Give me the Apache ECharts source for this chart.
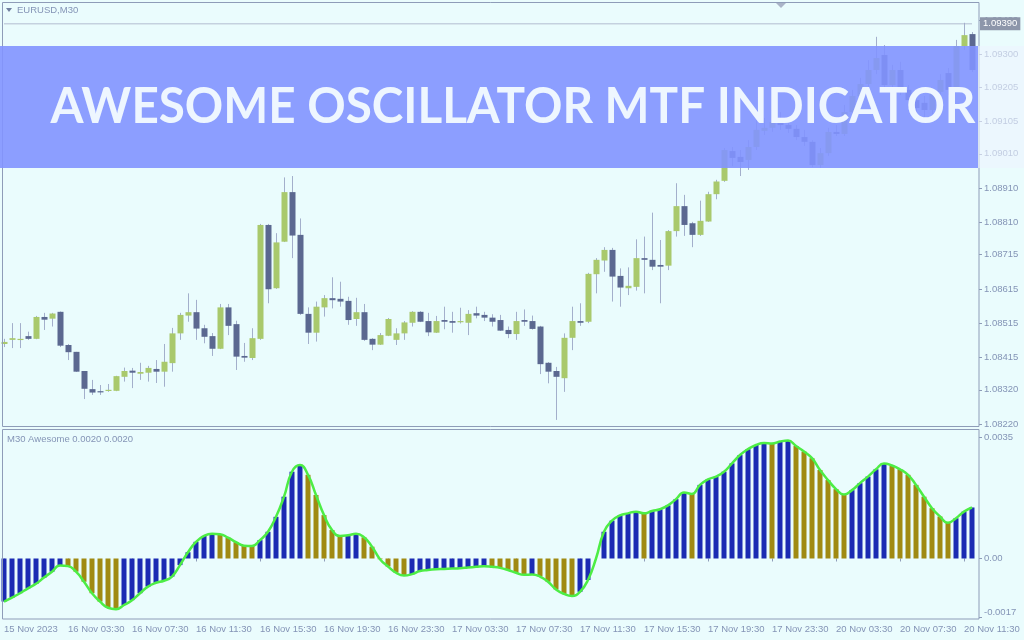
<!DOCTYPE html>
<html><head><meta charset="utf-8">
<script src="https://cdn.jsdelivr.net/npm/echarts@6/dist/echarts.min.js"></script>
<style>html,body{margin:0;padding:0;background:#eafcfd;}#c{width:1024px;height:640px;}</style>
</head><body><div id="c"></div>
<script>
const openP = [1.08454,1.08466,1.08466,1.08477,1.08469,1.08533,1.08528,1.08548,1.08451,1.08431,1.08375,1.08322,1.08316,1.08319,1.08317,1.08358,1.08376,1.08367,1.08370,1.08381,1.08373,1.08398,1.08485,1.08537,1.08547,1.08500,1.08477,1.08440,1.08561,1.08512,1.08419,1.08413,1.08469,1.08802,1.08617,1.08753,1.08898,1.08773,1.08542,1.08487,1.08561,1.08588,1.08586,1.08580,1.08527,1.08547,1.08469,1.08452,1.08478,1.08466,1.08485,1.08516,1.08548,1.08521,1.08487,1.08524,1.08521,1.08520,1.08516,1.08544,1.08539,1.08531,1.08524,1.08495,1.08483,1.08524,1.08521,1.08505,1.08399,1.08375,1.08354,1.08472,1.08521,1.08519,1.08658,1.08698,1.08729,1.08653,1.08617,1.08621,1.08705,1.08700,1.08685,1.08683,1.08784,1.08857,1.08807,1.08773,1.08812,1.08892,1.08931,1.09018,1.09001,1.08992,1.09030,1.09077,1.09086,1.09103,1.09094,1.09083,1.09059,1.09045,1.08977,1.09012,1.09074,1.09068,1.09132,1.09179,1.09214,1.09255,1.09299,1.09211,1.09255,1.09197,1.09167,1.09159,1.09138,1.09191,1.09246,1.09197,1.09325,1.09360];
const closeP = [1.08460,1.08471,1.08469,1.08469,1.08533,1.08525,1.08543,1.08449,1.08430,1.08373,1.08323,1.08312,1.08314,1.08320,1.08360,1.08375,1.08370,1.08372,1.08384,1.08373,1.08402,1.08485,1.08539,1.08547,1.08499,1.08475,1.08440,1.08561,1.08507,1.08417,1.08414,1.08471,1.08802,1.08614,1.08751,1.08898,1.08771,1.08542,1.08487,1.08563,1.08588,1.08582,1.08578,1.08524,1.08547,1.08466,1.08452,1.08480,1.08527,1.08485,1.08517,1.08548,1.08519,1.08488,1.08521,1.08519,1.08516,1.08521,1.08542,1.08537,1.08531,1.08519,1.08493,1.08483,1.08521,1.08519,1.08498,1.08395,1.08373,1.08358,1.08472,1.08521,1.08516,1.08659,1.08700,1.08729,1.08651,1.08619,1.08624,1.08705,1.08700,1.08680,1.08680,1.08784,1.08857,1.08802,1.08773,1.08814,1.08892,1.08929,1.09021,1.08998,1.08986,1.09030,1.09080,1.09086,1.09103,1.09094,1.09083,1.09059,1.09045,1.08977,1.09012,1.09074,1.09068,1.09132,1.09179,1.09214,1.09255,1.09290,1.09211,1.09255,1.09197,1.09167,1.09144,1.09138,1.09191,1.09226,1.09197,1.09325,1.09357,1.09255];
const highP = [1.08469,1.08515,1.08515,1.08490,1.08536,1.08545,1.08545,1.08549,1.08454,1.08431,1.08375,1.08349,1.08334,1.08337,1.08361,1.08385,1.08384,1.08399,1.08390,1.08407,1.08454,1.08501,1.08545,1.08602,1.08583,1.08510,1.08486,1.08571,1.08571,1.08522,1.08457,1.08500,1.08805,1.08805,1.08778,1.08941,1.08945,1.08821,1.08561,1.08578,1.08597,1.08649,1.08636,1.08592,1.08589,1.08571,1.08471,1.08486,1.08530,1.08500,1.08521,1.08550,1.08550,1.08545,1.08536,1.08563,1.08548,1.08560,1.08553,1.08563,1.08548,1.08541,1.08539,1.08505,1.08548,1.08555,1.08537,1.08507,1.08401,1.08387,1.08485,1.08563,1.08573,1.08662,1.08705,1.08737,1.08735,1.08675,1.08678,1.08760,1.08768,1.08838,1.08758,1.08787,1.08924,1.08890,1.08811,1.08873,1.08899,1.08934,1.09027,1.09030,1.09021,1.09050,1.09109,1.09115,1.09132,1.09132,1.09109,1.09094,1.09080,1.09050,1.09027,1.09086,1.09094,1.09153,1.09197,1.09232,1.09284,1.09352,1.09328,1.09270,1.09279,1.09211,1.09191,1.09179,1.09202,1.09243,1.09261,1.09343,1.09393,1.09366];
const lowP = [1.08445,1.08442,1.08442,1.08466,1.08468,1.08495,1.08505,1.08445,1.08407,1.08372,1.08293,1.08305,1.08305,1.08314,1.08316,1.08344,1.08325,1.08349,1.08344,1.08340,1.08329,1.08373,1.08466,1.08519,1.08466,1.08456,1.08419,1.08439,1.08480,1.08378,1.08402,1.08407,1.08466,1.08573,1.08615,1.08752,1.08705,1.08539,1.08454,1.08461,1.08534,1.08558,1.08563,1.08510,1.08507,1.08463,1.08436,1.08451,1.08477,1.08451,1.08466,1.08505,1.08518,1.08477,1.08486,1.08497,1.08487,1.08514,1.08480,1.08529,1.08521,1.08505,1.08492,1.08471,1.08466,1.08507,1.08496,1.08366,1.08339,1.08232,1.08314,1.08436,1.08507,1.08515,1.08602,1.08665,1.08578,1.08563,1.08597,1.08610,1.08602,1.08670,1.08573,1.08670,1.08768,1.08770,1.08737,1.08770,1.08811,1.08877,1.08928,1.08974,1.08945,1.08963,1.09021,1.09065,1.09074,1.09080,1.09071,1.09050,1.09033,1.08971,1.08969,1.09004,1.09062,1.09062,1.09126,1.09173,1.09202,1.09243,1.09202,1.09182,1.09182,1.09144,1.09124,1.09115,1.09126,1.09173,1.09182,1.09191,1.09314,1.09249];
const aoValues = [-0.00124,-0.00113,-0.00100,-0.00086,-0.00073,-0.00055,-0.00038,-0.00020,-0.00022,-0.00038,-0.00067,-0.00100,-0.00124,-0.00142,-0.00146,-0.00134,-0.00120,-0.00100,-0.00081,-0.00070,-0.00064,-0.00052,-0.00019,0.00018,0.00048,0.00065,0.00071,0.00070,0.00060,0.00047,0.00037,0.00036,0.00053,0.00077,0.00120,0.00178,0.00250,0.00269,0.00241,0.00183,0.00125,0.00082,0.00065,0.00067,0.00071,0.00061,0.00034,-0.00002,-0.00023,-0.00041,-0.00049,-0.00045,-0.00036,-0.00033,-0.00031,-0.00030,-0.00029,-0.00028,-0.00026,-0.00024,-0.00022,-0.00024,-0.00027,-0.00033,-0.00041,-0.00047,-0.00046,-0.00052,-0.00067,-0.00089,-0.00102,-0.00108,-0.00096,-0.00062,0.00000,0.00077,0.00109,0.00124,0.00130,0.00135,0.00130,0.00137,0.00142,0.00153,0.00171,0.00190,0.00186,0.00212,0.00228,0.00236,0.00250,0.00274,0.00298,0.00315,0.00327,0.00333,0.00331,0.00337,0.00340,0.00324,0.00308,0.00289,0.00255,0.00226,0.00200,0.00184,0.00197,0.00217,0.00236,0.00257,0.00274,0.00268,0.00257,0.00241,0.00212,0.00178,0.00145,0.00121,0.00103,0.00116,0.00135,0.00147];
const xTickLabels = ['15 Nov 2023','16 Nov 03:30','16 Nov 07:30','16 Nov 11:30','16 Nov 15:30','16 Nov 19:30','16 Nov 23:30','17 Nov 03:30','17 Nov 07:30','17 Nov 11:30','17 Nov 15:30','17 Nov 19:30','17 Nov 23:30','20 Nov 03:30','20 Nov 07:30','20 Nov 11:30'];
const priceTicks = [1.08220,1.08320,1.08415,1.08515,1.08615,1.08715,1.08810,1.08910,1.09010,1.09105,1.09205,1.09300,1.09400];
const aoTicks = [-0.0017, 0, 0.0035];
const lastPrice = 1.09390;
const title = 'AWESOME OSCILLATOR MTF INDICATOR';

// bar times (M30, weekend gap after 17 Nov 23:30)
const categories = [];
for (let i = 0; i < openP.length; i++) {
  let day, m;
  if (i <= 96) { m = 23*60 + 30 + 30*i; day = 15 + Math.floor(m/1440); m = m % 1440; }
  else { m = (i - 97) * 30; day = 20; }
  const hh = String(Math.floor(m/60)).padStart(2,'0'), mm = String(m%60).padStart(2,'0');
  categories.push(day + ' Nov ' + hh + ':' + mm);
}
const candleData = openP.map((o, i) => [i, o, closeP[i], lowP[i], highP[i]]);
const priceLine = categories.map(() => lastPrice);

const BULL = '#a9c96c', BEAR = '#5b6890', WICK = '#a3afcb';
const AO_UP = '#1b2bb3', AO_DN = '#a08a12';
const TXT = '#8494b6', FRAME = '#8e9cb8';
const FONT = 'Liberation Sans';
const P_MIN = 1.082142, P_MAX = 1.094509;

function renderCandle(params, api) {
  const i = api.value(0), o = api.value(1), c = api.value(2), l = api.value(3), h = api.value(4);
  const po = api.coord([i, o]), pc = api.coord([i, c]), pl = api.coord([i, l]), ph = api.coord([i, h]);
  const x = Math.round(po[0]) + 0.5;
  const w = 6;
  const top = Math.min(po[1], pc[1]);
  const bh = Math.max(1.2, Math.abs(po[1] - pc[1]));
  return {
    type: 'group',
    children: [
      {type: 'line', shape: {x1: x, y1: ph[1], x2: x, y2: pl[1]}, style: {stroke: WICK, lineWidth: 1}},
      {type: 'rect', shape: {x: x - w/2, y: top, width: w, height: bh}, style: {fill: c >= o ? BULL : BEAR}}
    ]
  };
}

const chart = echarts.init(document.getElementById('c'), null, {renderer: 'canvas'});
chart.setOption({
  backgroundColor: '#eafcfd',
  animation: false,
  textStyle: {fontFamily: FONT},
  grid: [
    {left: 0, top: 3, width: 976, height: 423},
    {left: 0, top: 437, width: 976, height: 182}
  ],
  xAxis: [
    {type: 'category', gridIndex: 0, data: categories, boundaryGap: true, show: false},
    {type: 'category', gridIndex: 1, data: categories, boundaryGap: true,
     axisLine: {show: false},
     axisTick: {show: true, interval: 7, alignWithLabel: true, length: 3, lineStyle: {color: FRAME}},
     axisLabel: {interval: 7, align: 'left', margin: 5, fontSize: 9.5, color: TXT, fontFamily: FONT,
       formatter: (v, idx) => xTickLabels[Math.round(idx / 8)] || ''}}
  ],
  yAxis: [
    {type: 'value', gridIndex: 0, position: 'right', offset: 3, min: P_MIN, max: P_MAX, scale: true,
     splitLine: {show: false}, axisLine: {show: false},
     axisTick: {show: true, length: 3, customValues: priceTicks, lineStyle: {color: FRAME}},
     axisLabel: {customValues: priceTicks, margin: 5, fontSize: 9.5, color: TXT, fontFamily: FONT,
       formatter: v => v.toFixed(5)}},
    {type: 'value', gridIndex: 1, position: 'right', offset: 3, min: -0.001743, max: 0.0035,
     splitLine: {show: false}, axisLine: {show: false},
     axisTick: {show: true, length: 3, customValues: aoTicks, lineStyle: {color: FRAME}},
     axisLabel: {customValues: aoTicks, margin: 5, fontSize: 9.5, color: TXT, fontFamily: FONT,
       verticalAlignMinLabel: 'bottom',
       formatter: v => v === 0 ? '0.00' : v.toFixed(4)}},
    {type: 'value', gridIndex: 0, position: 'right', offset: 3, min: P_MIN, max: P_MAX, scale: true,
     splitLine: {show: false}, axisLine: {show: false}, axisTick: {show: false},
     axisLabel: {customValues: [lastPrice], margin: 1, fontSize: 9.5, fontFamily: FONT,
       color: '#ffffff', backgroundColor: '#8d96aa', padding: [2, 3, 1, 3],
       formatter: v => v.toFixed(5)}}
  ],
  series: [
    {type: 'line', xAxisIndex: 0, yAxisIndex: 0, data: priceLine, symbol: 'none', silent: true,
     lineStyle: {color: '#b2bccf', width: 1}, z: 1},
    {type: 'custom', xAxisIndex: 0, yAxisIndex: 0, renderItem: renderCandle, data: candleData,
     encode: {x: 0, y: [1, 2, 3, 4]}, clip: true, z: 2},
    {type: 'bar', xAxisIndex: 1, yAxisIndex: 1, data: aoValues, barWidth: 5,
     itemStyle: {color: p => (p.dataIndex === 0 || aoValues[p.dataIndex] > aoValues[p.dataIndex - 1]) ? AO_UP : AO_DN}},
    {type: 'line', xAxisIndex: 1, yAxisIndex: 1, data: aoValues, smooth: 0.5, symbol: 'none',
     lineStyle: {color: '#4ded45', width: 2.5}, z: 5}
  ],
  graphic: [
    {type: 'rect', shape: {x: 2.5, y: 2.5, width: 976.5, height: 424}, style: {fill: null, stroke: FRAME, lineWidth: 1}, z: 50, silent: true},
    {type: 'rect', shape: {x: 2.5, y: 429.5, width: 976.5, height: 189.5}, style: {fill: null, stroke: FRAME, lineWidth: 1}, z: 50, silent: true},
    {type: 'polygon', shape: {points: [[6, 8], [12, 8], [9, 12]]}, style: {fill: '#6f7f9f'}, z: 50},
    {type: 'text', x: 17, y: 10, style: {text: 'EURUSD,M30', fill: TXT, font: '9.5px "Liberation Sans"', textVerticalAlign: 'middle'}, z: 50},
    {type: 'text', x: 7, y: 439, style: {text: 'M30 Awesome 0.0020 0.0020', fill: TXT, font: '9.5px "Liberation Sans"', textVerticalAlign: 'middle'}, z: 50},
    {type: 'polygon', shape: {points: [[776, 3], [786, 3], [781, 8]]}, style: {fill: '#aab4c8'}, z: 50},
    {type: 'rect', shape: {x: 0, y: 46, width: 978, height: 122}, style: {fill: 'rgba(130,148,255,0.9)'}, z: 100, silent: true},
    {type: 'rect', shape: {x: 978, y: 46, width: 46, height: 122}, style: {fill: 'rgba(236,244,255,0.6)'}, z: 100, silent: true},
    {type: 'text', x: 513, y: 107, scaleX: 0.952, z: 101, silent: true,
     style: {text: title, fill: '#eef6ff', font: 'bold 50px Lato', textAlign: 'center', textVerticalAlign: 'middle'}}
  ]
});
</script></body></html>
